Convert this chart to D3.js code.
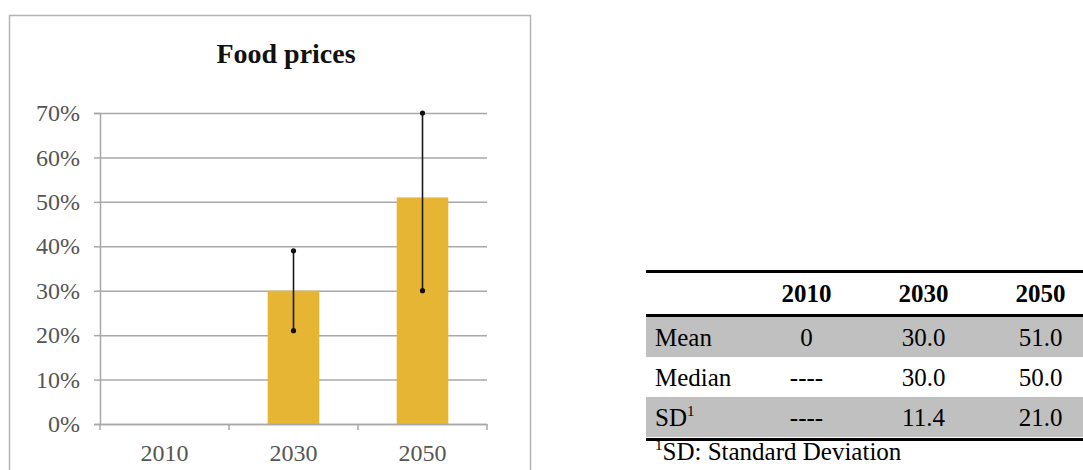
<!DOCTYPE html>
<html><head><meta charset="utf-8">
<script src="https://cdn.jsdelivr.net/npm/d3@7"></script>
<style>
html,body{margin:0;padding:0;background:#fff;}
svg{display:block;font-family:"Liberation Serif","Times New Roman",serif;}
</style></head>
<body>
<svg id="c" width="1083" height="470"></svg>
<script>
// ---- data ----
const categories = ["2010", "2030", "2050"];
const meanValues = [0, 30, 51];
const errLow = [null, 21, 30];
const errHigh = [null, 39, 70];
const yTicks = [0, 10, 20, 30, 40, 50, 60, 70];
const chartTitle = "Food prices";

const tableCols = ["2010", "2030", "2050"];
const rowLabels = ["Mean", "Median", "SD"];
const meanRow = ["0", "30.0", "51.0"];
const medianRow = ["----", "30.0", "50.0"];
const sdRow = ["----", "11.4", "21.0"];
const footnote = "SD: Standard Deviation";

// ---- chart ----
const svg = d3.select("#c");
svg.append("rect").attr("x", 9.5).attr("y", 15.5).attr("width", 521).attr("height", 480)
  .attr("fill", "#fff").attr("stroke", "#b4b4b4").attr("stroke-width", 1.5);

const x = d3.scaleBand().domain(categories).range([100, 487]).paddingInner(0).paddingOuter(0);
const y = d3.scaleLinear().domain([0, 70]).range([424, 113]);

svg.append("text").attr("x", 286).attr("y", 63).attr("text-anchor", "middle")
  .attr("font-size", 28).attr("font-weight", "bold").attr("fill", "#111").text(chartTitle);

// gridlines
const grid = svg.append("g").attr("transform", "translate(100,0)")
  .call(d3.axisLeft(y).tickValues(yTicks).tickSize(-387).tickFormat(""));
grid.select(".domain").remove();
grid.selectAll("line").attr("stroke", "#a8a8a8").attr("stroke-width", 1.5);

// y axis line and labels
const yAxis = svg.append("g").attr("transform", "translate(100,0)")
  .call(d3.axisLeft(y).tickValues(yTicks).tickSize(6).tickPadding(14).tickFormat(d => d + "%"));
yAxis.select(".domain").attr("stroke", "#a8a8a8").attr("stroke-width", 1.5);
yAxis.selectAll("line").attr("stroke", "#a8a8a8").attr("stroke-width", 1.5);
yAxis.selectAll("text").attr("font-size", 24).attr("fill", "#555")
  .attr("font-family", "'Liberation Serif',serif");

// bars
svg.append("g").selectAll("rect").data(categories).join("rect")
  .attr("x", (d, i) => x(d) + x.bandwidth() * 0.3)
  .attr("width", x.bandwidth() * 0.4)
  .attr("y", (d, i) => y(meanValues[i]))
  .attr("height", (d, i) => y(0) - y(meanValues[i]))
  .attr("fill", "#E6B533");

// x axis
const xAxis = svg.append("g").attr("transform", "translate(0,424)")
  .call(d3.axisBottom(x).tickSize(0).tickPadding(20));
xAxis.select(".domain").attr("stroke", "#a8a8a8").attr("stroke-width", 1.5);
xAxis.selectAll("text").attr("font-size", 24).attr("fill", "#555")
  .attr("font-family", "'Liberation Serif',serif");
svg.append("g").selectAll("line").data([0, 1, 2, 3]).join("line")
  .attr("x1", i => x.range()[0] + i * x.step()).attr("x2", i => x.range()[0] + i * x.step())
  .attr("y1", 424).attr("y2", 430).attr("stroke", "#a8a8a8").attr("stroke-width", 1.5);

// error bars
const eb = categories.map((c, i) => ({c, lo: errLow[i], hi: errHigh[i]})).filter(d => d.lo !== null);
const ebg = svg.append("g");
ebg.selectAll("line").data(eb).join("line")
  .attr("x1", d => x(d.c) + x.bandwidth() / 2).attr("x2", d => x(d.c) + x.bandwidth() / 2)
  .attr("y1", d => y(d.lo)).attr("y2", d => y(d.hi))
  .attr("stroke", "#1a1a1a").attr("stroke-width", 1.6);
ebg.selectAll("circle").data(eb.flatMap(d => [{c: d.c, v: d.lo}, {c: d.c, v: d.hi}])).join("circle")
  .attr("cx", d => x(d.c) + x.bandwidth() / 2).attr("cy", d => y(d.v)).attr("r", 2.6)
  .attr("fill", "#111");

// ---- table ----
const tx0 = 646, tx1 = 1083;
const tc = d3.scaleBand().domain(tableCols).range([748, 1099]);
const rows = [meanRow, medianRow, sdRow];
const ry = d3.scaleBand().domain(rowLabels).range([317, 437]);
const tg = svg.append("g").attr("font-size", 25).attr("fill", "#000");

tg.selectAll("rect.bg").data(rowLabels.filter((d, i) => i % 2 === 0)).join("rect")
  .attr("class", "bg").attr("x", tx0).attr("width", tx1 - tx0)
  .attr("y", d => ry(d)).attr("height", ry.bandwidth()).attr("fill", "#c0c0c0");

tg.append("line").attr("x1", tx0).attr("x2", tx1).attr("y1", 271.5).attr("y2", 271.5).attr("stroke", "#000").attr("stroke-width", 3);
tg.append("line").attr("x1", tx0).attr("x2", tx1).attr("y1", 315.5).attr("y2", 315.5).attr("stroke", "#000").attr("stroke-width", 3);
tg.append("line").attr("x1", tx0).attr("x2", tx1).attr("y1", 439.5).attr("y2", 439.5).attr("stroke", "#000").attr("stroke-width", 3);

tg.selectAll("text.hd").data(tableCols).join("text").attr("class", "hd")
  .attr("x", d => tc(d) + tc.bandwidth() / 2).attr("y", 302).attr("text-anchor", "middle")
  .attr("font-weight", "bold").text(d => d);

rowLabels.forEach((lab, r) => {
  const by = ry(lab) + ry.bandwidth() / 2 + 8.5;
  const t = tg.append("text").attr("x", 655).attr("y", by);
  if (lab === "SD") {
    t.text("SD");
    t.append("tspan").attr("font-size", 15).attr("dy", -10).text("1");
  } else t.text(lab);
  tg.selectAll(null).data(rows[r]).join("text")
    .attr("x", (d, i) => tc(tableCols[i]) + tc.bandwidth() / 2).attr("y", by)
    .attr("text-anchor", "middle").text(d => d);
});

const fn = tg.append("text").attr("x", 655).attr("y", 460);
fn.append("tspan").attr("font-size", 15).attr("dy", -10).text("1");
fn.append("tspan").attr("dy", 10).text(footnote);
</script>
</body></html>
